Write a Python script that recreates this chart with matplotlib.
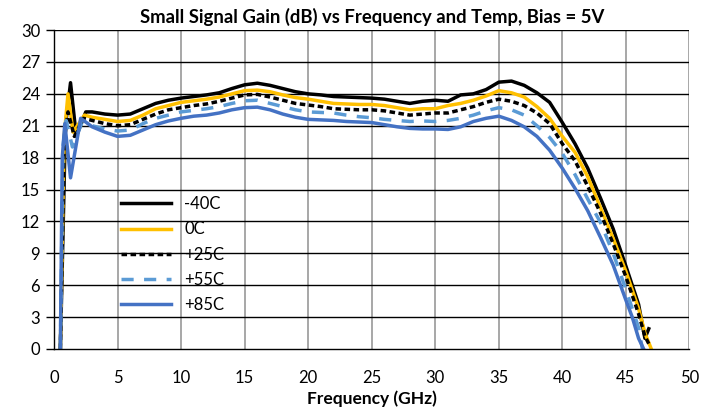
import numpy as np
import matplotlib
matplotlib.use("Agg")
import matplotlib.pyplot as plt

plt.rcParams["font.family"] = ["Lato", "DejaVu Sans"]

# ======= DATA =======
freq_main = [3, 4, 5, 6, 7, 8, 9, 10, 11, 12, 13, 14, 15, 16, 17, 18, 19, 20,
             21, 22, 23, 24, 25, 26, 27, 28, 29, 30, 31, 32, 33, 34, 35, 36,
             37, 38, 39, 40, 41, 42, 43, 44, 45, 46]

# -40C
f_m40 = [0.5, 0.9, 1.3, 1.75, 2.5] + freq_main + [46.5, 46.8]
g_m40 = [0.0, 21.0, 25.05, 20.0, 22.3,
         22.3, 22.1, 22.0, 22.1, 22.6, 23.1, 23.4, 23.6, 23.75, 23.9, 24.1, 24.5,
         24.85, 25.0, 24.8, 24.5, 24.2, 24.0, 23.9, 23.75, 23.7, 23.65, 23.6, 23.5,
         23.3, 23.1, 23.3, 23.4, 23.3, 23.9, 24.0, 24.4, 25.1, 25.2, 24.8, 24.1,
         23.2, 21.3, 19.3, 17.0, 14.2, 11.3, 7.8, 4.2, 1.0, 1.9]

# 0C
f_0 = [0.5, 0.8, 1.1, 1.5, 2.4] + freq_main + [46.5, 47.0]
g_0 = [0.0, 20.0, 24.0, 20.4, 22.0,
       21.8, 21.6, 21.4, 21.5, 22.0, 22.6, 22.9, 23.2, 23.35, 23.5, 23.7, 24.0,
       24.3, 24.35, 24.2, 23.9, 23.65, 23.5, 23.3, 23.1, 23.05, 23.0, 23.0, 22.9,
       22.7, 22.5, 22.6, 22.6, 22.9, 23.1, 23.4, 23.8, 24.3, 24.1, 23.7, 22.8,
       21.7, 20.0, 18.5, 16.2, 13.3, 10.4, 7.3, 3.8, 1.5, 0.0]

# +25C
f_25 = [0.5, 0.8, 1.1, 1.6, 2.3] + freq_main + [46.5, 46.8]
g_25 = [0.0, 19.5, 22.3, 20.0, 21.7,
        21.5, 21.2, 21.0, 21.1, 21.6, 22.1, 22.5, 22.7, 22.9, 23.05, 23.3, 23.6,
        23.9, 23.95, 23.7, 23.4, 23.1, 22.95, 22.8, 22.6, 22.55, 22.5, 22.5, 22.4,
        22.2, 22.0, 22.1, 22.2, 22.2, 22.5, 22.8, 23.2, 23.5, 23.3, 22.9, 22.2,
        21.2, 19.3, 17.7, 15.3, 12.8, 9.9, 6.8, 3.3, 1.2, 0.5]

# +55C
f_55 = [0.5, 0.7, 0.95, 1.45, 2.2] + freq_main + [46.3]
g_55 = [0.0, 19.0, 21.5, 19.0, 21.3,
        21.0, 20.7, 20.5, 20.6, 21.2, 21.7, 22.0, 22.3, 22.45, 22.6, 22.8, 23.1,
        23.35, 23.4, 23.1, 22.8, 22.5, 22.3, 22.25, 22.2, 22.0, 21.85, 21.75, 21.6,
        21.5, 21.4, 21.45, 21.4, 21.5, 21.7, 22.0, 22.4, 22.7, 22.5, 22.0, 21.0,
        19.9, 18.4, 16.4, 14.1, 11.9, 9.0, 5.6, 2.0, 0.0]

# +85C
f_85 = [0.5, 0.65, 0.85, 1.3, 2.1] + freq_main[:-1] + [45.5, 46.0, 46.4]
g_85 = [0.0, 18.0, 21.2, 16.1, 21.7,
        20.9, 20.4, 20.0, 20.1, 20.6, 21.1, 21.45, 21.7, 21.9, 22.0, 22.2, 22.5,
        22.7, 22.75, 22.5, 22.1, 21.8, 21.6, 21.55, 21.5, 21.4, 21.35, 21.3, 21.1,
        20.9, 20.75, 20.7, 20.7, 20.65, 20.9, 21.4, 21.7, 21.9, 21.5, 20.9, 20.0,
        18.7, 17.0, 15.1, 13.0, 10.5, 7.9, 4.6, 3.0, 1.0, 0.0]

labels = ["-40C", "0C", "+25C", "+55C", "+85C"]
x_ticks = list(range(0, 51, 5))
y_ticks = list(range(0, 31, 3))
# ==============================================

fig = plt.figure(figsize=(7.06, 4.12), dpi=100)
ax = fig.add_axes([0.0765, 0.153, 0.9, 0.774])

ax.plot(f_m40, g_m40, color="black", lw=2.5, label=labels[0])
ax.plot(f_0, g_0, color="#FFC000", lw=2.5, label=labels[1])
ax.plot(f_25, g_25, color="black", lw=2.5, ls=(0, (1.6, 1.0)), label=labels[2])
ax.plot(f_55, g_55, color="#5B9BD5", lw=2.5, ls=(0, (3.5, 3.0)), label=labels[3])
ax.plot(f_85, g_85, color="#4472C4", lw=2.5, label=labels[4])

ax.set_xlim(0, 50)
ax.set_ylim(0, 30)
ax.set_xticks(x_ticks)
ax.set_yticks(y_ticks)

for y in y_ticks[1:]:
    ax.axhline(y, color="black", lw=1.0, zorder=0.5)
for x in x_ticks[1:]:
    ax.axvline(x, color="#A0A0A0", lw=1.3, zorder=0.4)

ax.spines["top"].set_visible(False)
ax.spines["right"].set_visible(False)
ax.spines["left"].set_linewidth(1.0)
ax.spines["bottom"].set_linewidth(1.0)
ax.tick_params(axis="y", length=6, width=1.0, labelsize=12, pad=4)
ax.tick_params(axis="x", length=0, labelsize=12, pad=15)

ax.set_title("Small Signal Gain (dB) vs Frequency and Temp, Bias = 5V",
             fontsize=13.3, fontweight="bold", pad=5)
ax.set_xlabel("Frequency (GHz)", fontsize=12.5, fontweight="bold", labelpad=3.5)

ax.legend(loc="upper left", bbox_to_anchor=(0.095, 0.5), frameon=False,
          fontsize=12, handlelength=3.0, handletextpad=0.8, labelspacing=0.55,
          borderaxespad=0)

fig.savefig("out.png", dpi=100)
